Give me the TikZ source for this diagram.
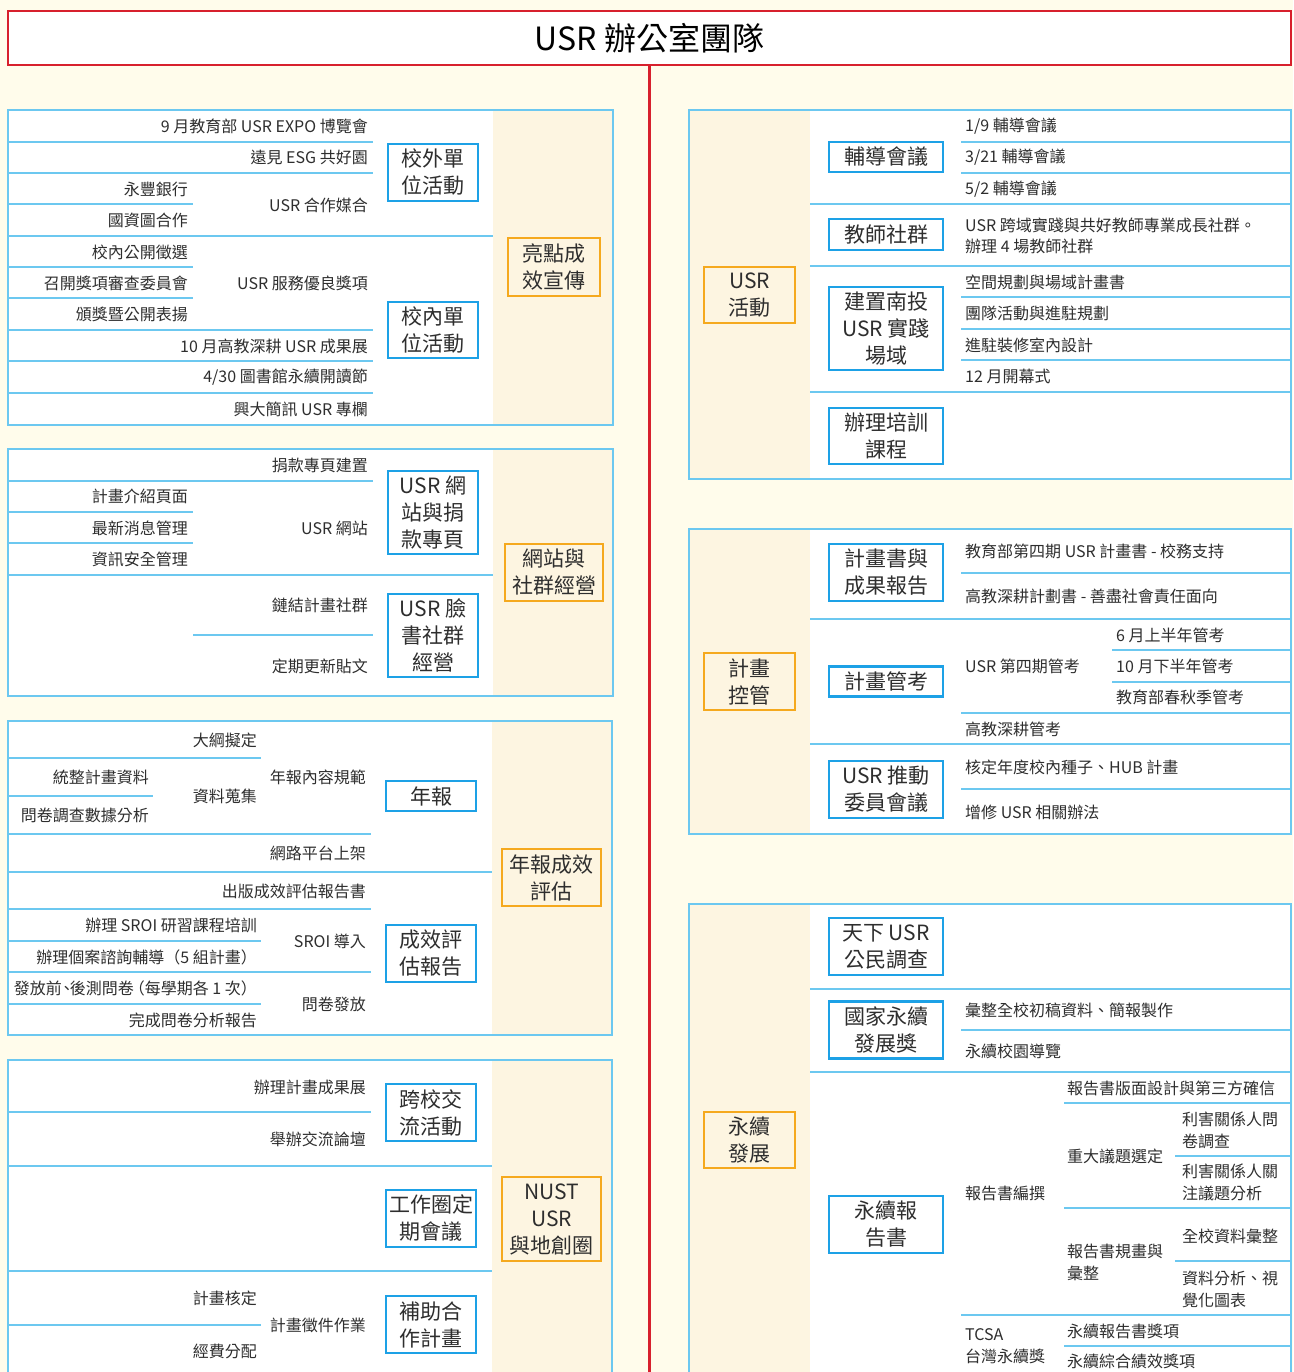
\documentclass[tikz,border=0pt]{standalone}
\usepackage{fontspec}
\setmainfont{Noto Sans CJK TC}
\definecolor{bgc}{HTML}{FFFCEB}
\definecolor{colc}{HTML}{FDF5E1}
\definecolor{lnc}{HTML}{6CC8F0}
\definecolor{boxc}{HTML}{1DA1E6}
\definecolor{orc}{HTML}{F5A91E}
\definecolor{redc}{HTML}{D7202D}
\definecolor{txt}{HTML}{2E2E2E}
\begin{document}
\begin{tikzpicture}[x=1pt,y=-1pt,
  tR/.style={anchor=east,inner sep=0pt,text=txt,font=\fontsize{16}{22}\selectfont,align=right},
  tL/.style={anchor=west,inner sep=0pt,text=txt,font=\fontsize{16}{22}\selectfont,align=left},
  bx/.style={draw=boxc,line width=2.2pt,fill=white,inner sep=0pt,text=txt,font=\fontsize{21}{27}\selectfont,align=center},
  ob/.style={draw=orc,line width=2.2pt,inner sep=0pt,text=txt,font=\fontsize{21}{27}\selectfont,align=center},
  ln/.style={draw=lnc,line width=1.8pt},
  pb/.style={draw=lnc,line width=2.6pt},
  lw/.style={minimum width=90pt},
  rw/.style={minimum width=114pt}]
\useasboundingbox (0,0) rectangle (1293,1372);
\fill[bgc] (0,0) rectangle (1293,1372);
% title
\node[draw=redc,line width=2.4pt,fill=white,minimum width=1283pt,minimum height=54pt,inner sep=0pt,
  font=\fontsize{32}{36}\selectfont,text=black] (title) at (649.5,38) {USR 辦公室團隊};
\coordinate (redend) at (649.5,1372);
\draw[redc,line width=2.4pt] (title.south) -- (redend);

% ================= LEFT PANEL 1 =================
\fill[white] (8,110) rectangle (613,425);
\fill[colc] (493,110) rectangle (613,425);
\foreach \y in {142,173,330,361,393} \draw[ln] (8,\y) -- (373,\y);
\foreach \y in {204,267,298} \draw[ln] (8,\y) -- (193,\y);
\draw[ln] (8,236) -- (493,236);
\draw[pb] (8,110) rectangle (613,425);
\node[tR] (p1a) at (368,126) {9 月教育部 USR EXPO 博覽會};
\node[tR] (p1b) at (368,157) {遠見 ESG 共好園};
\node[tR] (p1c) at (188,189) {永豐銀行};
\node[tR] (p1d) at (188,220) {國資圖合作};
\node[tR] (p1e) at (368,205) {USR 合作媒合};
\node[tR] (p1f) at (188,252) {校內公開徵選};
\node[tR] (p1g) at (188,283) {召開獎項審查委員會};
\node[tR] (p1h) at (188,314) {頒獎暨公開表揚};
\node[tR] (p1i) at (368,283) {USR 服務優良獎項};
\node[tR] (p1j) at (368,346) {10 月高教深耕 USR 成果展};
\node[tR] (p1k) at (368,377) {4/30 圖書館永續開讀節};
\node[tR] (p1l) at (368,409) {興大簡訊 USR 專欄};
\node[bx,lw,minimum height=57pt] (b1a) at (433,172.5) {校外單\\位活動};
\node[bx,lw,minimum height=56pt] (b1b) at (433,330) {校內單\\位活動};
\node[ob,minimum width=92pt,minimum height=58pt] (o1) at (554,267) {亮點成\\效宣傳};

% ================= LEFT PANEL 2 =================
\fill[white] (8,449) rectangle (613,696);
\fill[colc] (493,449) rectangle (613,696);
\draw[ln] (8,481) -- (373,481);
\foreach \y in {512,543} \draw[ln] (8,\y) -- (193,\y);
\draw[ln] (8,575) -- (493,575);
\draw[ln] (193,635) -- (373,635);
\draw[pb] (8,449) rectangle (613,696);
\node[tR] (p2a) at (368,465) {捐款專頁建置};
\node[tR] (p2b) at (188,496) {計畫介紹頁面};
\node[tR] (p2c) at (188,528) {最新消息管理};
\node[tR] (p2d) at (188,559) {資訊安全管理};
\node[tR] (p2e) at (368,528) {USR 網站};
\node[tR] (p2f) at (368,605) {鏈結計畫社群};
\node[tR] (p2g) at (368,666) {定期更新貼文};
\node[bx,lw,minimum height=83pt] (b2a) at (433,512.5) {USR 網\\站與捐\\款專頁};
\node[bx,lw,minimum height=83pt] (b2b) at (433,635.5) {USR 臉\\書社群\\經營};
\node[ob,minimum width=98pt,minimum height=57pt] (o2) at (554,572.5) {網站與\\社群經營};

% ================= LEFT PANEL 3 =================
\fill[white] (8,721) rectangle (612,1035);
\fill[colc] (492,721) rectangle (612,1035);
\draw[ln] (8,758) -- (261,758);
\draw[ln] (8,796) -- (153,796);
\draw[ln] (8,834) -- (371,834);
\draw[ln] (8,872) -- (492,872);
\draw[ln] (8,909) -- (371,909);
\draw[ln] (8,941) -- (261,941);
\draw[ln] (8,972) -- (371,972);
\draw[ln] (8,1004) -- (261,1004);
\draw[pb] (8,721) rectangle (612,1035);
\node[tR] (p3a) at (257,740) {大綱擬定};
\node[tR] (p3b) at (149,777) {統整計畫資料};
\node[tR] (p3c) at (149,815) {問卷調查數據分析};
\node[tR] (p3d) at (257,796) {資料蒐集};
\node[tR] (p3e) at (366,777) {年報內容規範};
\node[tR] (p3f) at (366,853) {網路平台上架};
\node[tR] (p3g) at (366,891) {出版成效評估報告書};
\node[tR] (p3h) at (257,925) {辦理 SROI 研習課程培訓};
\node[tR] (p3i) at (257,957) {辦理個案諮詢輔導（5 組計畫）};
\node[tR] (p3j) at (257,988) {發放前\kern-3pt、\kern-5pt後測問卷\kern-5pt（每學期各 1 次）};
\node[tR] (p3k) at (257,1020) {完成問卷分析報告};
\node[tR] (p3l) at (366,941) {SROI 導入};
\node[tR] (p3m) at (366,1004) {問卷發放};
\node[bx,lw,minimum height=30pt] (b3a) at (431,796) {年報};
\node[bx,lw,minimum height=57pt] (b3b) at (431,953.5) {成效評\\估報告};
\node[ob,minimum width=99pt,minimum height=57pt] (o3) at (551.5,877.5) {年報成效\\評估};

% ================= LEFT PANEL 4 =================
\fill[white] (8,1060) rectangle (612,1380);
\fill[colc] (492,1060) rectangle (612,1380);
\draw[ln] (8,1112) -- (371,1112);
\draw[ln] (8,1166) -- (492,1166);
\draw[ln] (8,1271) -- (492,1271);
\draw[ln] (8,1325) -- (261,1325);
\draw[pb] (8,1380) -- (8,1060) -- (612,1060) -- (612,1380);
\node[tR] (p4a) at (366,1087) {辦理計畫成果展};
\node[tR] (p4b) at (366,1139) {舉辦交流論壇};
\node[tR] (p4c) at (257,1298) {計畫核定};
\node[tR] (p4d) at (257,1351) {經費分配};
\node[tR] (p4e) at (366,1325) {計畫徵件作業};
\node[bx,lw,minimum height=57pt] (b4a) at (431,1112.5) {跨校交\\流活動};
\node[bx,lw,minimum height=57pt] (b4b) at (431,1218.5) {工作圈定\\期會議};
\node[bx,lw,minimum height=57pt] (b4c) at (431,1324.5) {補助合\\作計畫};
\node[ob,minimum width=99pt,minimum height=84pt] (o4) at (551.5,1219) {NUST\\USR\\與地創圈};

% ================= RIGHT PANEL 1 =================
\fill[white] (689,110) rectangle (1291,479);
\fill[colc] (689,110) rectangle (810,479);
\foreach \y in {142,173,297,329,360} \draw[ln] (961,\y) -- (1291,\y);
\foreach \y in {204,266,392} \draw[ln] (810,\y) -- (1291,\y);
\draw[pb] (689,110) rectangle (1291,479);
\node[tL] (r1a) at (965,126) {1/9 輔導會議};
\node[tL] (r1b) at (965,157) {3/21 輔導會議};
\node[tL] (r1c) at (965,189) {5/2 輔導會議};
\node[tL,font=\fontsize{16}{21}\selectfont] (r1d) at (965,235.5) {USR 跨域實踐與共好教師專業成長社群。\\辦理 4 場教師社群};
\node[tL] (r1e) at (965,282) {空間規劃與場域計畫書};
\node[tL] (r1f) at (965,313) {團隊活動與進駐規劃};
\node[tL] (r1g) at (965,345) {進駐裝修室內設計};
\node[tL] (r1h) at (965,376) {12 月開幕式};
\node[bx,rw,minimum height=30pt] (c1a) at (886,157) {輔導會議};
\node[bx,rw,minimum height=31pt] (c1b) at (886,234.5) {教師社群};
\node[bx,rw,minimum height=83pt] (c1c) at (886,328.5) {建置南投\\USR 實踐\\場域};
\node[bx,rw,minimum height=56pt] (c1d) at (886,436) {辦理培訓\\課程};
\node[ob,minimum width=91pt,minimum height=56pt] (q1) at (749.5,295) {USR\\活動};

% ================= RIGHT PANEL 2 =================
\fill[white] (689,529) rectangle (1291,834);
\fill[colc] (689,529) rectangle (810,834);
\draw[ln] (961,573) -- (1291,573);
\draw[ln] (810,619) -- (1291,619);
\draw[ln] (1112,650) -- (1291,650);
\draw[ln] (1112,682) -- (1291,682);
\draw[ln] (961,713) -- (1291,713);
\draw[ln] (810,744) -- (1291,744);
\draw[ln] (961,789) -- (1291,789);
\draw[pb] (689,529) rectangle (1291,834);
\node[tL] (r2a) at (965,551) {教育部第四期 USR 計畫書 - 校務支持};
\node[tL] (r2b) at (965,596) {高教深耕計劃書 - 善盡社會責任面向};
\node[tL] (r2c) at (1116,635) {6 月上半年管考};
\node[tL] (r2d) at (1116,666) {10 月下半年管考};
\node[tL] (r2e) at (1116,697) {教育部春秋季管考};
\node[tL] (r2f) at (965,666) {USR 第四期管考};
\node[tL] (r2g) at (965,729) {高教深耕管考};
\node[tL] (r2h) at (965,767) {核定年度校內種子、HUB 計畫};
\node[tL] (r2i) at (965,812) {增修 USR 相關辦法};
\node[bx,rw,minimum height=57pt] (c2a) at (886,572.5) {計畫書與\\成果報告};
\node[bx,rw,minimum height=30pt] (c2b) at (886,681.5) {計畫管考};
\node[bx,rw,minimum height=57pt] (c2c) at (886,789.5) {USR 推動\\委員會議};
\node[ob,minimum width=91pt,minimum height=57pt] (q2) at (749.5,681.5) {計畫\\控管};

% ================= RIGHT PANEL 3 =================
\fill[white] (689,904) rectangle (1291,1380);
\fill[colc] (689,904) rectangle (810,1380);
\draw[ln] (810,989) -- (1291,989);
\draw[ln] (961,1030) -- (1291,1030);
\draw[ln] (810,1072) -- (1291,1072);
\draw[ln] (1064,1103) -- (1291,1103);
\draw[ln] (1175,1156) -- (1291,1156);
\draw[ln] (1064,1208) -- (1291,1208);
\draw[ln] (1175,1261) -- (1291,1261);
\draw[ln] (961,1315) -- (1291,1315);
\draw[ln] (1064,1346) -- (1291,1346);
\draw[pb] (689,1380) -- (689,904) -- (1291,904) -- (1291,1380);
\node[tL] (r3a) at (965,1010) {彙整全校初稿資料、簡報製作};
\node[tL] (r3b) at (965,1051) {永續校園導覽};
\node[tL] (r3c) at (1067,1088) {報告書版面設計與第三方確信};
\node[tL] (r3d) at (1182,1130) {利害關係人問\\卷調查};
\node[tL] (r3e) at (1067,1156) {重大議題選定};
\node[tL] (r3f) at (1182,1182) {利害關係人關\\注議題分析};
\node[tL] (r3g) at (965,1193) {報告書編撰};
\node[tL] (r3h) at (1182,1236) {全校資料彙整};
\node[tL] (r3i) at (1067,1262) {報告書規畫與\\彙整};
\node[tL] (r3j) at (1182,1289) {資料分析、視\\覺化圖表};
\node[tL] (r3k) at (965,1346) {TCSA\\台灣永續獎};
\node[tL] (r3l) at (1067,1331) {永續報告書獎項};
\node[tL] (r3m) at (1067,1361) {永續綜合績效獎項};
\node[bx,rw,minimum height=57pt] (c3a) at (886,946.5) {天下 USR\\公民調查};
\node[bx,rw,minimum height=57pt] (c3b) at (886,1030) {國家永續\\發展獎};
\node[bx,rw,minimum height=57pt] (c3c) at (886,1224.5) {永續報\\告書};
\node[ob,minimum width=91pt,minimum height=56pt] (q3) at (749.5,1140) {永續\\發展};
\end{tikzpicture}
\end{document}
